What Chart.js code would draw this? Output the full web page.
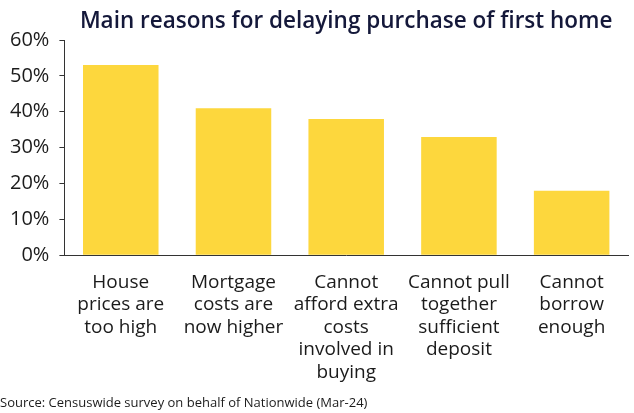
<!DOCTYPE html>
<html>
<head>
<meta charset="utf-8">
<script src="https://cdn.jsdelivr.net/npm/chart.js@4/dist/chart.umd.min.js"></script>
<style>
  html, body { margin: 0; padding: 0; background: #fff; }
  #wrap { width: 634px; height: 413px; }
</style>
</head>
<body>
<div id="wrap"><canvas id="chart"></canvas></div>
<script>
// categories (multi-line labels) and values in %
const reasons = [
  ['House', 'prices are', 'too high'],
  ['Mortgage', 'costs are', 'now higher'],
  ['Cannot', 'afford extra', 'costs', 'involved in', 'buying'],
  ['Cannot pull', 'together', 'sufficient', 'deposit'],
  ['Cannot', 'borrow', 'enough']
];
const shares = [53, 41, 38, 33, 18];
const yTicks = [0, 10, 20, 30, 40, 50, 60];

const font = '"Open Sans", Lato, sans-serif';
const ink = '#1b1b1b';

new Chart(document.getElementById('chart'), {
  type: 'bar',
  data: {
    labels: reasons,
    datasets: [{
      data: shares,
      backgroundColor: '#fdd73d',
      barPercentage: 0.67,
      categoryPercentage: 1
    }]
  },
  options: {
    responsive: true,
    maintainAspectRatio: false,
    animation: false,
    layout: { padding: { left: 0, right: 6, top: 0, bottom: 0 } },
    plugins: {
      legend: { display: false },
      tooltip: { enabled: false },
      title: {
        display: true,
        text: 'Main reasons for delaying purchase of first home',
        fullSize: false,
        color: '#14183a',
        font: { family: font, size: 22.5, weight: '600' },
        padding: { top: 8, bottom: 5 }
      },
      subtitle: {
        display: true,
        position: 'bottom',
        align: 'start',
        text: 'Source: Censuswide survey on behalf of Nationwide (Mar-24)',
        color: ink,
        font: { family: font, size: 13 },
        padding: { top: 4, bottom: 2 }
      }
    },
    scales: {
      x: {
        grid: { display: false },
        border: { display: true, color: '#333', width: 1 },
        ticks: {
          color: ink,
          font: { family: font, size: 19, lineHeight: 1.18 },
          maxRotation: 0,
          autoSkip: false,
          padding: 8
        }
      },
      y: {
        min: 0,
        max: 60,
        afterBuildTicks: (axis) => { axis.ticks = yTicks.map(v => ({ value: v })); },
        grid: { drawOnChartArea: false, drawTicks: true, tickLength: 5, color: '#333' },
        border: { display: true, color: '#333', width: 1 },
        ticks: {
          color: ink,
          font: { family: font, size: 20 },
          padding: 10,
          callback: (v) => v + '%'
        }
      }
    }
  }
});
</script>
</body>
</html>
